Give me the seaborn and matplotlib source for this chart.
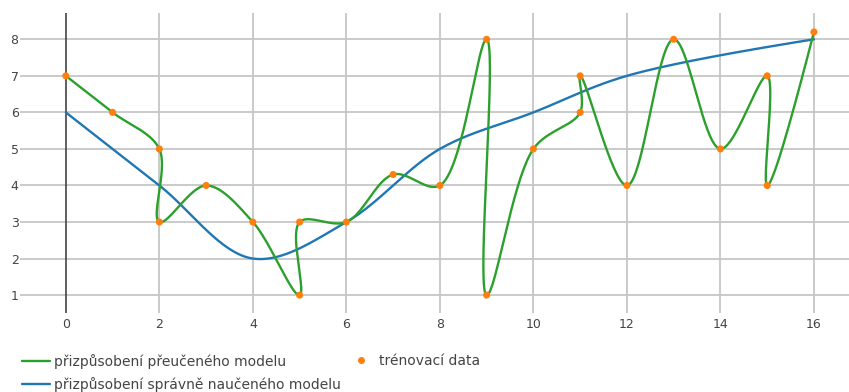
import numpy as np
import pandas as pd
import matplotlib
matplotlib.use("Agg")
import matplotlib.pyplot as plt
import seaborn as sns
from matplotlib.lines import Line2D

# training samples (visited in this order by the overfitted curve)
train_x = [0, 1, 2, 2, 3, 4, 5, 5, 6, 7, 8, 9, 9, 10, 11, 11, 12, 13, 14, 15, 15, 16]
train_y = [7, 6, 5, 3, 4, 3, 1, 3, 3, 4.3, 4, 8, 1, 5, 6, 7, 4, 8, 5, 7, 4, 8.2]

# knots of the well-fitted model
good_x = [0, 2, 4, 6, 8, 10, 12, 16]
good_y = [6, 4, 2, 3, 5, 6, 7, 8]

x_ticks = [0, 2, 4, 6, 8, 10, 12, 14, 16]
y_ticks = [1, 2, 3, 4, 5, 6, 7, 8]

label_over = "přizpůsobení přeučeného modelu"
label_good = "přizpůsobení správně naučeného modelu"
label_train = "trénovací data"

GREEN = "#2ca02c"
BLUE = "#1f77b4"
ORANGE = "#ff7f0e"
TEXT = "#444444"
GRID = "#c6c6c6"

sns.set_theme(style="white")
plt.rcParams["font.family"] = ["DejaVu Sans"]

W, H = 849, 392
fig = plt.figure(figsize=(W / 100, H / 100), dpi=100)
ax = fig.add_axes([20 / W, 1 - 313 / H, 1 - 20 / W, 300 / H])
XLIM = (-0.98, 16.75)
YLIM = (0.51, 8.72)
ax.set_xlim(*XLIM)
ax.set_ylim(*YLIM)


def smooth_path(xs, ys, smoothing=1.0, n=40):
    """Centripetal Catmull-Rom style spline computed in display space."""
    pts = ax.transData.transform(np.column_stack([xs, ys]).astype(float))

    def tangent(p0, p1, p2):
        d1 = p0 - p1
        d2 = p2 - p1
        d1a = np.hypot(*d1) ** 0.5
        d2a = np.hypot(*d2) ** 0.5
        num = (d2a ** 2 * d1 - d1a ** 2 * d2) * smoothing
        den1 = 3 * d2a * (d1a + d2a)
        den2 = 3 * d1a * (d1a + d2a)
        return p1 + num / den1, p1 - num / den2

    tans = [tangent(pts[i - 1], pts[i], pts[i + 1]) for i in range(1, len(pts) - 1)]
    t = np.linspace(0, 1, n)[:, None]

    def quad(a, c, b):
        return (1 - t) ** 2 * a + 2 * (1 - t) * t * c + t ** 2 * b

    def cubic(a, c1, c2, b):
        return ((1 - t) ** 3 * a + 3 * (1 - t) ** 2 * t * c1
                + 3 * (1 - t) * t ** 2 * c2 + t ** 3 * b)

    out = [pts[:1], quad(pts[0], tans[0][0], pts[1])[1:]]
    for i in range(2, len(pts) - 1):
        out.append(cubic(pts[i - 1], tans[i - 2][1], tans[i - 1][0], pts[i])[1:])
    out.append(quad(pts[-2], tans[-1][1], pts[-1])[1:])
    data = ax.transData.inverted().transform(np.vstack(out))
    return pd.DataFrame({"x": data[:, 0], "y": data[:, 1]})


# grid and zero line
for yv in y_ticks:
    ax.axhline(yv, color=GRID, lw=1.3, zorder=0)
for xv in x_ticks:
    if xv == 0:
        ax.axvline(xv, color="#444444", lw=1.2, zorder=0.5)
    else:
        ax.axvline(xv, color=GRID, lw=1.3, zorder=0)

over_df = smooth_path(train_x, train_y)
good_df = smooth_path(good_x, good_y)
train_df = pd.DataFrame({"x": train_x, "y": train_y})

sns.lineplot(data=over_df, x="x", y="y", sort=False, estimator=None,
             color=GREEN, lw=1.7, ax=ax, zorder=3)
sns.lineplot(data=good_df, x="x", y="y", sort=False, estimator=None,
             color=BLUE, lw=1.7, ax=ax, zorder=2)
sns.scatterplot(data=train_df, x="x", y="y", color=ORANGE, s=26,
                edgecolor="none", ax=ax, zorder=4)

ax.set_xlim(*XLIM)
ax.set_ylim(*YLIM)
ax.set_xticks(x_ticks)
ax.set_yticks(y_ticks)
ax.set_xlabel("")
ax.set_ylabel("")
ax.tick_params(axis="both", length=0, labelsize=9, labelcolor=TEXT)
ax.tick_params(axis="x", pad=3.5)
ax.tick_params(axis="y", pad=1)
for s in ax.spines.values():
    s.set_visible(False)

h_over = Line2D([], [], color=GREEN, lw=1.7)
h_good = Line2D([], [], color=BLUE, lw=1.7)
h_train = Line2D([], [], color=ORANGE, marker="o", ls="none", ms=5, mec="none")

leg_kw = dict(frameon=False, fontsize=10, labelcolor=TEXT, handlelength=2.0,
              handletextpad=0.3, labelspacing=0.6, borderpad=0, borderaxespad=0)
fig.legend([h_over, h_good], [label_over, label_good], loc="upper left",
           bbox_to_anchor=(22 / W, 1 - 354 / H), **leg_kw)
fig.legend([h_train], [label_train], loc="upper left",
           bbox_to_anchor=(347 / W, 1 - 354 / H), **leg_kw)

fig.savefig("out.png", dpi=100)
